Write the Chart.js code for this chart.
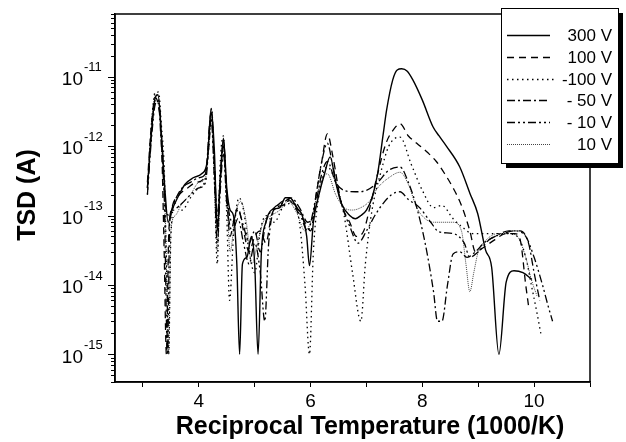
<!DOCTYPE html>
<html>
<head>
<meta charset="utf-8">
<script src="https://cdn.jsdelivr.net/npm/chart.js@4.4.1/dist/chart.umd.min.js"></script>
<style>
  body { margin: 0; background: #fff; }
  #wrap { width: 626px; height: 442px; position: relative; }
</style>
</head>
<body>
<div id="wrap"><canvas id="tsdChart"></canvas></div>
<script>
// series labels (legend order)
const seriesLabels = ['300 V', '100 V', '-100 V', '- 50 V', '- 10 V', '10 V'];

// reciprocal temperature (1000/K) and TSD current (A) for each bias
const temp300 = [3.08,3.15,3.22,3.27,3.33,3.4,3.45,3.52,3.62,3.75,3.9,4.05,4.15,4.22,4.28,4.33,4.38,4.44,4.5,4.56,4.62,4.68,4.73,4.78,4.86,4.94,5.0,5.06,5.12,5.2,5.3,5.45,5.55,5.63,5.75,5.85,5.93,5.98,6.05,6.15,6.25,6.35,6.45,6.55,6.7,6.8,6.9,7.0,7.1,7.2,7.3,7.36,7.47,7.55,7.63,7.73,7.83,8.0,8.19,8.3,8.43,8.67,8.85,8.99,9.13,9.24,9.37,9.5,9.64,9.8,9.96];
const tsd300 = [2.5e-13,1.5e-12,5e-12,5.5e-12,1.5e-12,2e-13,8e-14,1.2e-13,1.8e-13,2.8e-13,3.5e-13,4e-13,6e-13,3.5e-12,8e-13,6e-14,3e-13,1.3e-12,2.5e-13,1.2e-13,1e-13,2e-14,1e-15,2e-14,2.5e-14,5e-14,2e-14,1e-15,3e-14,8e-14,1.2e-13,1.3e-13,1.8e-13,1.8e-13,1.3e-13,1e-13,5e-14,1.9e-14,8e-14,2e-13,4e-13,7e-13,3e-13,1.5e-13,1e-13,9e-14,1e-13,1.2e-13,1.8e-13,4e-13,1.5e-12,3.3e-12,9e-12,1.25e-11,1.3e-11,1.2e-11,9e-12,4.6e-12,1.9e-12,1.4e-12,1e-12,5e-13,2.1e-13,1.07e-13,3.2e-14,1.8e-14,1e-15,1.1e-14,1.6e-14,1.5e-14,1.2e-14];

const temp100 = [3.08,3.15,3.22,3.27,3.33,3.38,3.42,3.46,3.52,3.65,3.8,3.95,4.1,4.18,4.23,4.28,4.33,4.39,4.44,4.5,4.56,4.62,4.7,4.8,4.9,5.0,5.1,5.2,5.3,5.45,5.6,5.75,5.9,6.0,6.1,6.2,6.3,6.4,6.55,6.7,6.82,6.95,7.05,7.2,7.35,7.5,7.6,7.75,7.9,8.1,8.25,8.4,8.55,8.7,8.85,8.95,9.1,9.3,9.5,9.65,9.75,9.85,9.9];
const tsd100 = [3e-13,2e-12,5e-12,4e-12,1.3e-12,3e-14,1e-15,5e-14,1.3e-13,2e-13,2.5e-13,3e-13,3.5e-13,1e-12,3e-12,5e-13,8e-14,4e-13,1.2e-12,2e-13,5e-14,8e-14,1.3e-13,6e-14,3e-14,5e-14,6e-14,4e-14,1e-13,1.5e-13,1.7e-13,1.2e-13,8e-14,6e-14,2e-13,6e-13,1.5e-12,7e-13,1.5e-13,8e-14,5e-14,6e-14,1.2e-13,4e-13,1.1e-12,1.8e-12,2.1e-12,1.4e-12,1.1e-12,8e-13,6e-13,4e-13,2.5e-13,1.4e-13,6e-14,3e-14,3.5e-14,4.5e-14,5.5e-14,5.5e-14,4.5e-14,1e-14,5e-15];

const tempM100 = [3.08,3.15,3.22,3.28,3.33,3.38,3.43,3.46,3.5,3.58,3.7,3.85,4.0,4.1,4.18,4.23,4.28,4.33,4.38,4.44,4.5,4.55,4.62,4.72,4.8,4.9,5.0,5.1,5.2,5.35,5.5,5.65,5.8,5.9,5.98,6.05,6.15,6.3,6.45,6.6,6.75,6.9,6.98,7.1,7.25,7.4,7.6,7.8,8.0,8.2,8.35,8.55,8.7,8.9,9.2,9.5,9.7,9.85,9.95,10.05,10.12];
const tsdM100 = [2e-13,2e-12,6e-12,6e-12,2e-12,5e-13,1e-14,1e-15,5e-14,1.5e-13,1.2e-13,1.8e-13,2.5e-13,3e-13,1e-12,3.5e-12,3e-13,2e-14,5e-13,1.4e-12,1e-13,6e-15,5e-14,1.8e-13,1.2e-13,3e-14,1.5e-14,6e-14,1e-13,8e-14,1.3e-13,1.5e-13,8e-14,1e-14,1e-15,3e-14,2e-13,5e-13,3e-13,1e-13,1.5e-14,3e-15,2e-14,1.2e-13,4e-13,1e-12,1.35e-12,5.5e-13,2.3e-13,1.3e-13,1.4e-13,9e-14,7e-14,5.5e-14,5.5e-14,5.5e-14,5e-14,2.5e-14,1e-14,4e-15,2e-15];

const tempM50 = [3.08,3.15,3.22,3.28,3.33,3.4,3.47,3.55,3.7,3.85,4.0,4.12,4.22,4.28,4.33,4.38,4.44,4.5,4.6,4.7,4.8,4.9,5.0,5.1,5.2,5.35,5.5,5.65,5.8,5.95,6.05,6.2,6.3,6.45,6.6,6.8,7.0,7.2,7.4,7.6,7.75,7.9,8.05,8.2,8.27,8.35,8.45,8.55,8.67,8.8,8.95,9.1,9.3,9.55,9.75,9.9,10.0,10.1];
const tsdM50 = [2.5e-13,1.5e-12,4.5e-12,4e-12,1e-12,1.5e-13,1e-13,1.5e-13,2.5e-13,3e-13,3.5e-13,4e-13,3e-12,5e-13,1e-13,3e-13,1e-12,2e-13,8e-14,1.2e-13,7e-14,4e-14,6e-14,3e-14,8e-14,1.3e-13,1.5e-13,1.8e-13,1.3e-13,8e-14,1e-13,4e-13,6e-13,3e-13,2.3e-13,2.2e-13,2.3e-13,3e-13,4.5e-13,5e-13,3e-13,1.3e-13,4e-14,8e-15,3e-15,3e-15,1e-14,2.8e-14,3e-14,2.5e-14,3e-14,4e-14,5e-14,6e-14,6e-14,4e-14,1.5e-14,6e-15];

const tempM10 = [3.08,3.15,3.22,3.28,3.33,3.38,3.44,3.48,3.55,3.7,3.85,4.0,4.12,4.22,4.28,4.33,4.38,4.44,4.5,4.6,4.7,4.8,4.9,5.0,5.1,5.18,5.25,5.35,5.5,5.65,5.8,5.95,6.05,6.2,6.3,6.4,6.55,6.7,6.85,7.0,7.15,7.3,7.45,7.6,7.75,7.95,8.15,8.3,8.55,8.75,8.85,9.0,9.2,9.45,9.65,9.85,10.0,10.15,10.25,10.33];
const tsdM10 = [2e-13,1.2e-12,4e-12,4.5e-12,1.5e-12,2e-13,1e-15,8e-14,1.2e-13,1.5e-13,2e-13,2.5e-13,3e-13,2.5e-12,3e-13,4e-14,2e-13,8e-13,1.5e-13,6e-14,9e-14,4e-14,2e-14,4e-14,1.5e-14,3e-15,4e-14,1.2e-13,1.4e-13,1.7e-13,1.1e-13,6e-14,1.2e-13,6e-13,1.1e-12,5e-13,1.5e-13,7e-14,4e-14,6e-14,1e-13,1.5e-13,2e-13,2.2e-13,1.7e-13,1.3e-13,8e-14,5.8e-14,5.5e-14,4e-14,2.5e-14,3e-14,4.5e-14,5.5e-14,6e-14,5e-14,2.5e-14,1e-14,5e-15,3e-15];

const temp10 = [3.08,3.15,3.22,3.28,3.33,3.4,3.46,3.5,3.58,3.7,3.85,4.0,4.12,4.22,4.28,4.33,4.38,4.44,4.5,4.56,4.65,4.75,4.85,4.95,5.05,5.15,5.3,5.45,5.6,5.75,5.9,6.0,6.15,6.3,6.45,6.6,6.75,6.9,7.05,7.2,7.4,7.6,7.75,7.9,8.05,8.2,8.4,8.55,8.7,8.78,8.85,8.92,9.0,9.15,9.35,9.55,9.7,9.85,9.95,10.05];
const tsd10 = [2.5e-13,1.5e-12,5.5e-12,5e-12,1.2e-12,1e-13,1e-15,6e-14,1e-13,1.5e-13,2e-13,3e-13,3.5e-13,3e-12,4e-13,3e-14,3e-13,1.2e-12,2e-13,3e-14,1e-13,1.6e-13,8e-14,2e-14,4e-14,8e-14,1e-13,1.2e-13,1.6e-13,1.1e-13,6e-14,8e-14,2.5e-13,4e-13,2e-13,1.3e-13,1.2e-13,1.3e-13,1.6e-13,2.5e-13,3.5e-13,4.2e-13,2.8e-13,1.3e-13,9e-14,8e-14,8e-14,8e-14,6e-14,2e-14,8e-15,1.5e-14,3e-14,4.5e-14,5.5e-14,5.5e-14,5e-14,2.5e-14,1.2e-14,7e-15];

// axis ticks
const xLabelTicks = [4, 6, 8, 10];
const yDecades = [-15, -14, -13, -12, -11];

const FONT = '"Liberation Sans", Arial, sans-serif';

function pts(xs, ys) {
    return xs.map((x, i) => ({ x: x, y: ys[i] }));
}

// frame, y ticks/labels, titles and the boxed legend
const decorations = {
    id: 'decorations',
    afterDraw(chart) {
        const ctx = chart.ctx;
        const a = chart.chartArea;
        const y = chart.scales.y;
        ctx.save();
        ctx.strokeStyle = '#000';
        ctx.lineWidth = 1.5;
        ctx.strokeRect(a.left, a.top, a.right - a.left, a.bottom - a.top);

        // log ticks on the left axis
        ctx.lineWidth = 1;
        for (let e = -16; e <= -11; e++) {
            for (let m = 1; m <= 9; m++) {
                const v = m * Math.pow(10, e);
                if (v < y.min || v > y.max) continue;
                const py = Math.round(y.getPixelForValue(v)) + 0.5;
                const len = m === 1 ? 7 : 4;
                ctx.beginPath();
                ctx.moveTo(a.left - len, py);
                ctx.lineTo(a.left, py);
                ctx.stroke();
            }
        }

        // y tick labels 10^n
        ctx.fillStyle = '#000';
        ctx.textBaseline = 'middle';
        yDecades.forEach(e => {
            const py = y.getPixelForValue(Math.pow(10, e));
            ctx.font = '19px ' + FONT;
            ctx.textAlign = 'right';
            ctx.fillText('10', 83, py + 3);
            ctx.font = '13px ' + FONT;
            ctx.textAlign = 'left';
            ctx.fillText(String(e), 84, py - 9);
        });

        // axis titles
        ctx.font = 'bold 25px ' + FONT;
        ctx.textAlign = 'center';
        ctx.fillText('Reciprocal Temperature (1000/K)', 370, 427);
        ctx.save();
        ctx.translate(28, 195);
        ctx.rotate(-Math.PI / 2);
        ctx.fillText('TSD (A)', 0, 0);
        ctx.restore();

        // legend box with drop shadow
        const bx = 501, by = 8, bw = 117, bh = 155;
        ctx.fillStyle = '#000';
        ctx.fillRect(bx + 5, by + 5, bw, bh);
        ctx.fillStyle = '#fff';
        ctx.fillRect(bx, by, bw, bh);
        ctx.lineWidth = 1;
        ctx.strokeRect(bx + 0.5, by + 0.5, bw, bh);

        const rows = [35, 57, 79, 100, 122, 144];
        chart.data.datasets.forEach((ds, i) => {
            const ry = rows[i] + 0.5;
            ctx.strokeStyle = ds.borderColor;
            ctx.lineWidth = ds.borderWidth;
            ctx.setLineDash(ds.borderDash || []);
            ctx.beginPath();
            ctx.moveTo(507, ry);
            ctx.lineTo(i === 2 ? 554 : 550, ry);
            ctx.stroke();
            ctx.setLineDash([]);
            ctx.fillStyle = '#000';
            ctx.font = '17px ' + FONT;
            ctx.textAlign = 'right';
            ctx.fillText(ds.label, 612, rows[i] + 1);
        });
        ctx.restore();
    }
};

document.addEventListener('DOMContentLoaded', () => {
    const ctx = document.getElementById('tsdChart').getContext('2d');
    const tsdChart = new Chart(ctx, {
        type: 'line',
        data: {
            datasets: [
                { label: seriesLabels[0], data: pts(temp300, tsd300), borderColor: '#000', borderWidth: 1.4, borderDash: [] },
                { label: seriesLabels[1], data: pts(temp100, tsd100), borderColor: '#000', borderWidth: 1.3, borderDash: [7, 5] },
                { label: seriesLabels[2], data: pts(tempM100, tsdM100), borderColor: '#000', borderWidth: 1.3, borderDash: [1.5, 3.5] },
                { label: seriesLabels[3], data: pts(tempM50, tsdM50), borderColor: '#000', borderWidth: 1.3, borderDash: [8, 3, 2, 3] },
                { label: seriesLabels[4], data: pts(tempM10, tsdM10), borderColor: '#000', borderWidth: 1.3, borderDash: [8, 3, 2, 3, 2, 3] },
                { label: seriesLabels[5], data: pts(temp10, tsd10), borderColor: '#444', borderWidth: 1, borderDash: [1, 1] }
            ]
        },
        options: {
            responsive: true,
            maintainAspectRatio: false,
            animation: false,
            cubicInterpolationMode: 'monotone',
            elements: { point: { radius: 0 } },
            layout: { padding: { top: 14, right: 36, left: 0, bottom: 0 } },
            plugins: {
                legend: { display: false },
                tooltip: { enabled: false }
            },
            scales: {
                x: {
                    type: 'linear',
                    min: 2.5,
                    max: 11,
                    afterFit: s => { s.height = 60; },
                    grid: { drawOnChartArea: false, tickLength: 5, color: '#000', lineWidth: 1 },
                    border: { color: '#000', width: 1.5 },
                    ticks: {
                        stepSize: 1,
                        includeBounds: false,
                        autoSkip: false,
                        maxRotation: 0,
                        padding: 3,
                        color: '#000',
                        font: { size: 19, family: FONT },
                        callback: v => xLabelTicks.includes(v) ? String(v) : ''
                    }
                },
                y: {
                    type: 'logarithmic',
                    min: 4e-16,
                    max: 8e-11,
                    afterFit: s => { s.width = 115; },
                    grid: { display: false },
                    border: { color: '#000', width: 1.5 },
                    ticks: { display: false }
                }
            }
        },
        plugins: [decorations]
    });
});
</script>
</body>
</html>
